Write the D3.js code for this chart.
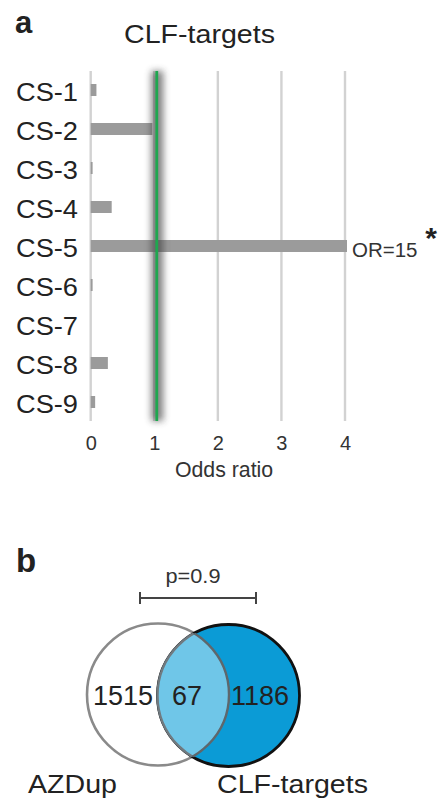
<!DOCTYPE html>
<html><head><meta charset="utf-8">
<script src="https://cdn.jsdelivr.net/npm/d3@7"></script>
<style>html,body{margin:0;padding:0;background:#fff;}svg{display:block;font-family:"Liberation Sans",Arial,sans-serif;}</style>
</head><body>
<svg id="chart" width="445" height="800"></svg>
<script>
// ---- data ----
const categories = ["CS-1","CS-2","CS-3","CS-4","CS-5","CS-6","CS-7","CS-8","CS-9"];
const oddsRatios = [0.09, 0.97, 0.03, 0.33, 15, 0.03, 0, 0.27, 0.07];
const xTicks = [0, 1, 2, 3, 4];
const referenceOR = 1;
const significant = ["CS-5"];
const vennSets = ["AZDup", "CLF-targets"];
const vennCounts = [1515, 67, 1186]; // only AZDup, overlap, only CLF-targets
const pValueLabel = "p=0.9";

const svg = d3.select("#chart");
const textCol = "#222";

// ---- panel a ----
const x = d3.scaleLinear().domain([0, 4]).range([90.7, 345]).clamp(true);
const y = d3.scalePoint().domain(categories).range([70.5, 421.5]).padding(0.5);
const barH = 12;
const gTop = 71, gBot = 421;

svg.append("text").attr("x", 15).attr("y", 33).attr("font-size", 31).attr("font-weight", "bold")
  .attr("fill", textCol).text("a");
svg.append("text").attr("x", 199.5).attr("y", 43).attr("font-size", 25.5).attr("text-anchor", "middle")
  .attr("fill", textCol).attr("textLength", 151).attr("lengthAdjust", "spacingAndGlyphs").text("CLF-targets");

const defs = svg.append("defs");
defs.append("filter").attr("id", "blur").attr("x", "-200%").attr("width", "500%")
  .append("feGaussianBlur").attr("stdDeviation", 3.6);

// gridlines
svg.append("g").selectAll("line").data(xTicks).join("line")
  .attr("x1", d => x(d)).attr("x2", d => x(d)).attr("y1", gTop).attr("y2", gBot)
  .attr("stroke", "#d2d2d2").attr("stroke-width", 2.4);

// bars
svg.append("g").selectAll("rect").data(categories).join("rect")
  .attr("x", x(0)).attr("y", d => y(d) - barH / 2)
  .attr("width", (d, i) => Math.max(0, x(oddsRatios[i]) - x(0) + (oddsRatios[i] > 4 ? 2 : 0)))
  .attr("height", barH).attr("fill", "#9b9b9b");

// reference line with shadow
svg.append("rect").attr("x", x(referenceOR) - 3).attr("y", gTop).attr("width", 12).attr("height", gBot - gTop)
  .attr("fill", "#404040").attr("opacity", 0.65).attr("filter", "url(#blur)");
svg.append("line").attr("x1", x(referenceOR) + 2.5).attr("x2", x(referenceOR) + 2.5).attr("y1", gTop).attr("y2", gBot)
  .attr("stroke", "#1fa74f").attr("stroke-width", 2.8);

// category labels
svg.append("g").selectAll("text").data(categories).join("text")
  .attr("x", 78).attr("y", d => y(d) + 11).attr("text-anchor", "end")
  .attr("font-size", 26).attr("fill", textCol)
  .attr("textLength", 62).attr("lengthAdjust", "spacingAndGlyphs").text(d => d);

// x axis tick labels
const axis = d3.axisBottom(x).tickValues(xTicks).tickSize(0).tickPadding(0).tickFormat(d3.format("d"));
const ax = svg.append("g").attr("transform", `translate(0,${436})`).call(axis);
ax.select(".domain").remove();
ax.selectAll("text").attr("font-size", 20).attr("fill", "#333").attr("font-family", "Liberation Sans, Arial, sans-serif")
  .attr("dy", "0.71em");
svg.append("text").attr("x", 224).attr("y", 477).attr("text-anchor", "middle").attr("font-size", 21.3)
  .attr("fill", "#333").text("Odds ratio");

// capped value annotation
categories.forEach((c, i) => {
  if (oddsRatios[i] > x.domain()[1]) {
    svg.append("text").attr("x", x(x.domain()[1]) + 7).attr("y", y(c) + 10.5).attr("font-size", 20.5)
      .attr("fill", "#333").text("OR=" + oddsRatios[i]);
  }
  if (significant.includes(c)) {
    svg.append("text").attr("x", 431).attr("y", y(c) + 2).attr("text-anchor", "middle")
      .attr("font-size", 30).attr("font-weight", "bold").attr("fill", textCol).text("*");
  }
});

// ---- panel b ----
svg.append("text").attr("x", 16).attr("y", 572).attr("font-size", 33).attr("font-weight", "bold")
  .attr("fill", textCol).text("b");

const cL = {x: 158, y: 694.5, r: 71};
const cR = {x: 228.5, y: 695.5, r: 71};

// significance bracket
const bx1 = 140, bx2 = 256, by = 598;
const br = svg.append("g").attr("stroke", "#444").attr("stroke-width", 2);
br.append("line").attr("x1", bx1).attr("x2", bx2).attr("y1", by).attr("y2", by);
br.append("line").attr("x1", bx1).attr("x2", bx1).attr("y1", by - 6).attr("y2", by + 6);
br.append("line").attr("x1", bx2).attr("x2", bx2).attr("y1", by - 6).attr("y2", by + 6);
svg.append("text").attr("x", 193).attr("y", 583).attr("text-anchor", "middle").attr("font-size", 20)
  .attr("fill", "#333").attr("textLength", 55).attr("lengthAdjust", "spacingAndGlyphs").text(pValueLabel);

defs.append("clipPath").attr("id", "clipL").append("circle").attr("cx", cL.x).attr("cy", cL.y).attr("r", cL.r);

svg.append("circle").attr("cx", cL.x).attr("cy", cL.y).attr("r", cL.r)
  .attr("fill", "#fff").attr("stroke", "#8a8a8a").attr("stroke-width", 2.6);
svg.append("circle").attr("cx", cR.x).attr("cy", cR.y).attr("r", cR.r)
  .attr("fill", "#0b9bd6").attr("stroke", "#111").attr("stroke-width", 2.8);
// intersection
svg.append("circle").attr("cx", cR.x).attr("cy", cR.y).attr("r", cR.r).attr("clip-path", "url(#clipL)")
  .attr("fill", "#6fc6e8");
// inner arcs
svg.append("circle").attr("cx", cR.x).attr("cy", cR.y).attr("r", cR.r).attr("clip-path", "url(#clipL)")
  .attr("fill", "none").attr("stroke", "#707a80").attr("stroke-width", 2.4);
defs.append("clipPath").attr("id", "clipR").append("circle").attr("cx", cR.x).attr("cy", cR.y).attr("r", cR.r);
svg.append("circle").attr("cx", cL.x).attr("cy", cL.y).attr("r", cL.r).attr("clip-path", "url(#clipR)")
  .attr("fill", "none").attr("stroke", "#5e676c").attr("stroke-width", 2.4);

const numX = [123, 187, 260];
svg.append("g").selectAll("text").data(vennCounts).join("text")
  .attr("x", (d, i) => numX[i]).attr("y", 705).attr("text-anchor", "middle")
  .attr("font-size", 27).attr("fill", textCol).text(d => d);

svg.append("text").attr("x", 28).attr("y", 793).attr("font-size", 26).attr("fill", textCol)
  .attr("textLength", 89).attr("lengthAdjust", "spacingAndGlyphs").text(vennSets[0]);
svg.append("text").attr("x", 217).attr("y", 793).attr("font-size", 26).attr("fill", textCol)
  .attr("textLength", 151).attr("lengthAdjust", "spacingAndGlyphs").text(vennSets[1]);
</script>
</body></html>
